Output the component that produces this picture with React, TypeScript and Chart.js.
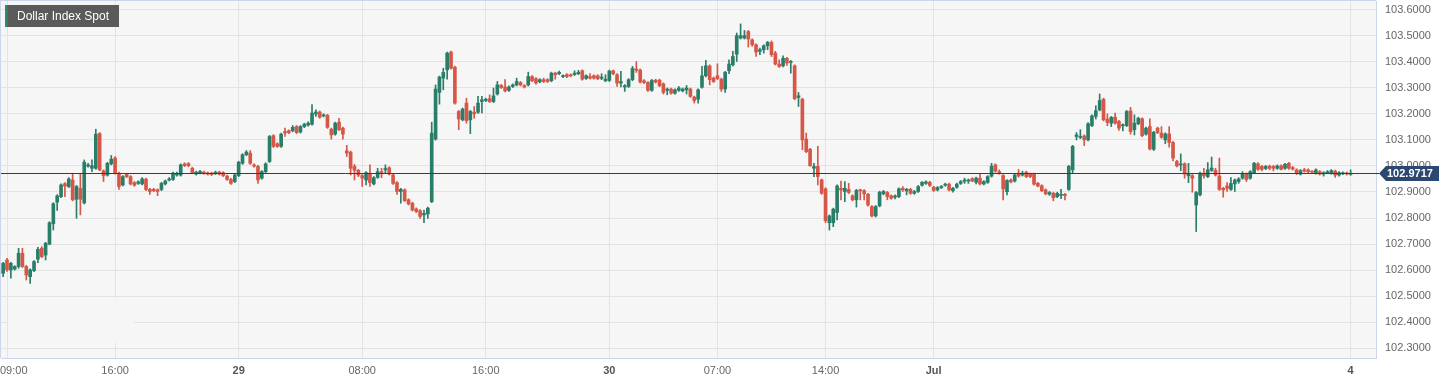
import React, { useEffect, useRef } from "react";
import { Chart, registerables } from "chart.js";

Chart.register(...registerables);

const title = "Dollar Index Spot";
const firstIndex = -1; // 15-minute candles, index 0 = 28 Jun 09:00 (weekend gap removed)
const lastPrice = 102.9717;

const tickIndices = [0, 28, 60, 92, 124, 156, 184, 212, 240, 348];
const tickLabels = ["09:00", "16:00", "29", "08:00", "16:00", "30", "07:00", "14:00", "Jul", "4"];
const tickBold = [false, false, true, false, false, true, false, false, true, true];
const yTicks = [102.3, 102.4, 102.5, 102.6, 102.7, 102.8, 102.9, 103.0, 103.1, 103.2, 103.3, 103.4, 103.5, 103.6];

const opens = [
  102.588, 102.639, 102.601, 102.604, 102.614, 102.665, 102.614, 102.575, 102.598, 102.642,
  102.684, 102.658, 102.700, 102.778, 102.861, 102.882, 102.932, 102.921, 102.946, 102.872,
  102.914, 102.858, 102.999, 102.991, 102.991, 103.124, 102.981, 102.965, 103.008, 103.030,
  102.972, 102.927, 102.968, 102.959, 102.936, 102.933, 102.931, 102.949, 102.910, 102.910,
  102.908, 102.910, 102.931, 102.946, 102.948, 102.965, 102.965, 103.008, 103.009, 102.991,
  102.969, 102.973, 102.976, 102.973, 102.972, 102.971, 102.976, 102.974, 102.961, 102.948,
  102.940, 102.963, 103.010, 103.043, 103.049, 103.004, 102.998, 102.953, 102.978, 103.017,
  103.116, 103.085, 103.075, 103.132, 103.135, 103.135, 103.151, 103.130, 103.151, 103.157,
  103.160, 103.199, 103.207, 103.192, 103.194, 103.141, 103.122, 103.168, 103.145, 103.058,
  103.053, 102.998, 102.983, 102.963, 102.946, 102.972, 102.931, 102.956, 102.978, 102.985,
  102.993, 102.965, 102.936, 102.902, 102.908, 102.870, 102.857, 102.835, 102.828, 102.812,
  102.816, 102.863, 103.103, 103.282, 103.337, 103.369, 103.437, 103.379, 103.209, 103.177,
  103.241, 103.177, 103.206, 103.206, 103.247, 103.251, 103.258, 103.247, 103.276, 103.309,
  103.303, 103.290, 103.305, 103.311, 103.320, 103.308, 103.311, 103.343, 103.335, 103.323,
  103.331, 103.331, 103.327, 103.356, 103.354, 103.343, 103.350, 103.349, 103.351, 103.354,
  103.365, 103.336, 103.343, 103.346, 103.346, 103.336, 103.327, 103.328, 103.365, 103.350,
  103.318, 103.303, 103.305, 103.331, 103.372, 103.368, 103.327, 103.320, 103.290, 103.329,
  103.329, 103.315, 103.290, 103.295, 103.279, 103.290, 103.288, 103.292, 103.295, 103.264,
  103.256, 103.302, 103.346, 103.384, 103.337, 103.346, 103.333, 103.295, 103.365, 103.388,
  103.429, 103.491, 103.491, 103.516, 103.484, 103.465, 103.440, 103.446, 103.461, 103.474,
  103.433, 103.391, 103.384, 103.413, 103.397, 103.384, 103.263, 103.256, 103.103, 103.064,
  102.991, 102.998, 102.946, 102.912, 102.782, 102.782, 102.821, 102.914, 102.902, 102.910,
  102.885, 102.870, 102.908, 102.905, 102.891, 102.844, 102.808, 102.847, 102.893, 102.898,
  102.885, 102.880, 102.882, 102.914, 102.904, 102.910, 102.895, 102.902, 102.926, 102.933,
  102.937, 102.918, 102.908, 102.917, 102.926, 102.930, 102.905, 102.918, 102.933, 102.941,
  102.942, 102.951, 102.937, 102.953, 102.931, 102.937, 102.961, 103.004, 102.978, 102.963,
  102.901, 102.946, 102.942, 102.972, 102.965, 102.976, 102.969, 102.969, 102.933, 102.924,
  102.908, 102.891, 102.895, 102.882, 102.887, 102.891, 102.910, 102.985, 103.113, 103.109,
  103.115, 103.100, 103.155, 103.190, 103.215, 103.256, 103.180, 103.164, 103.187, 103.171,
  103.154, 103.155, 103.211, 103.139, 103.162, 103.181, 103.122, 103.151, 103.064, 103.145,
  103.126, 103.100, 103.123, 103.090, 103.017, 103.004, 103.008, 102.962, 102.963, 102.850,
  102.889, 102.972, 102.959, 102.983, 102.983, 102.961, 102.914, 102.923, 102.910, 102.931,
  102.940, 102.953, 102.969, 102.953, 102.974, 103.008, 102.998, 102.990, 102.999, 102.998,
  102.991, 103.000, 102.991, 103.010, 102.994, 102.985, 102.969, 102.985, 102.985, 102.978,
  102.972, 102.978, 102.969, 102.974, 102.972, 102.980, 102.965, 102.970, 102.973, 102.968,
];

const highs = [
  102.630, 102.645, 102.630, 102.617, 102.684, 102.684, 102.618, 102.605, 102.637, 102.688,
  102.690, 102.707, 102.786, 102.859, 102.890, 102.931, 102.936, 102.955, 102.972, 102.925,
  102.972, 103.023, 103.010, 103.023, 103.141, 103.128, 102.985, 103.014, 103.040, 103.036,
  102.976, 102.963, 102.972, 102.963, 102.940, 102.943, 102.955, 102.953, 102.914, 102.914,
  102.912, 102.937, 102.946, 102.955, 102.976, 102.976, 103.008, 103.012, 103.013, 102.995,
  102.980, 102.983, 102.980, 102.977, 102.976, 102.980, 102.980, 102.978, 102.965, 102.952,
  102.969, 103.018, 103.047, 103.059, 103.059, 103.008, 103.002, 102.982, 103.012, 103.117,
  103.120, 103.089, 103.126, 103.145, 103.139, 103.155, 103.155, 103.155, 103.164, 103.169,
  103.235, 103.215, 103.211, 103.200, 103.198, 103.145, 103.168, 103.183, 103.149, 103.079,
  103.057, 103.006, 102.987, 102.967, 102.978, 103.004, 102.959, 102.991, 102.991, 103.004,
  102.997, 102.969, 102.940, 102.914, 102.912, 102.874, 102.861, 102.839, 102.832, 102.831,
  102.842, 103.168, 103.311, 103.345, 103.375, 103.437, 103.441, 103.383, 103.213, 103.222,
  103.260, 103.213, 103.228, 103.267, 103.267, 103.260, 103.273, 103.299, 103.324, 103.313,
  103.331, 103.307, 103.315, 103.337, 103.324, 103.312, 103.360, 103.347, 103.339, 103.335,
  103.337, 103.335, 103.360, 103.360, 103.364, 103.350, 103.354, 103.353, 103.365, 103.367,
  103.369, 103.350, 103.354, 103.350, 103.350, 103.354, 103.350, 103.368, 103.368, 103.354,
  103.363, 103.312, 103.335, 103.382, 103.400, 103.372, 103.331, 103.324, 103.332, 103.333,
  103.333, 103.319, 103.299, 103.299, 103.296, 103.305, 103.299, 103.309, 103.299, 103.268,
  103.296, 103.382, 103.405, 103.388, 103.341, 103.392, 103.337, 103.363, 103.407, 103.440,
  103.510, 103.545, 103.520, 103.520, 103.488, 103.469, 103.452, 103.465, 103.478, 103.480,
  103.440, 103.407, 103.423, 103.417, 103.405, 103.388, 103.282, 103.260, 103.126, 103.068,
  103.010, 103.075, 102.950, 102.916, 102.812, 102.838, 102.927, 102.942, 102.940, 102.933,
  102.889, 102.910, 102.911, 102.909, 102.895, 102.848, 102.848, 102.903, 102.906, 102.902,
  102.889, 102.889, 102.916, 102.921, 102.914, 102.914, 102.906, 102.925, 102.940, 102.943,
  102.941, 102.922, 102.921, 102.925, 102.934, 102.934, 102.918, 102.934, 102.944, 102.953,
  102.950, 102.955, 102.957, 102.972, 102.944, 102.963, 103.010, 103.008, 102.985, 102.967,
  102.948, 102.950, 102.969, 102.986, 102.980, 102.980, 102.973, 102.973, 102.937, 102.928,
  102.912, 102.902, 102.899, 102.899, 102.910, 102.895, 103.002, 103.079, 103.128, 103.139,
  103.119, 103.166, 103.196, 103.231, 103.276, 103.260, 103.200, 103.190, 103.203, 103.175,
  103.162, 103.213, 103.225, 103.196, 103.187, 103.185, 103.149, 103.181, 103.133, 103.149,
  103.151, 103.127, 103.151, 103.094, 103.021, 103.046, 103.012, 103.010, 102.967, 102.902,
  102.976, 102.991, 103.013, 103.034, 102.991, 103.030, 102.918, 102.936, 102.955, 102.950,
  102.955, 102.978, 102.973, 102.982, 103.014, 103.013, 103.002, 103.002, 103.003, 103.002,
  103.004, 103.004, 103.010, 103.014, 102.998, 102.989, 102.986, 102.991, 102.989, 102.982,
  102.989, 102.982, 102.978, 102.982, 102.986, 102.984, 102.978, 102.977, 102.977, 102.985,
];

const lows = [
  102.575, 102.595, 102.569, 102.600, 102.607, 102.610, 102.562, 102.549, 102.594, 102.629,
  102.648, 102.639, 102.697, 102.754, 102.829, 102.878, 102.882, 102.917, 102.866, 102.799,
  102.812, 102.854, 102.995, 102.978, 102.987, 102.981, 102.940, 102.961, 103.004, 102.968,
  102.910, 102.923, 102.955, 102.927, 102.922, 102.929, 102.927, 102.905, 102.891, 102.901,
  102.886, 102.905, 102.927, 102.942, 102.944, 102.961, 102.961, 102.997, 102.997, 102.970,
  102.965, 102.969, 102.968, 102.965, 102.963, 102.967, 102.965, 102.959, 102.944, 102.929,
  102.936, 102.959, 103.006, 103.039, 103.006, 102.995, 102.933, 102.949, 102.974, 103.013,
  103.071, 103.071, 103.071, 103.113, 103.124, 103.131, 103.124, 103.126, 103.147, 103.153,
  103.156, 103.190, 103.183, 103.188, 103.144, 103.103, 103.118, 103.135, 103.103, 103.036,
  102.965, 102.946, 102.959, 102.921, 102.927, 102.921, 102.927, 102.952, 102.955, 102.972,
  102.965, 102.929, 102.891, 102.857, 102.863, 102.850, 102.827, 102.821, 102.799, 102.782,
  102.799, 102.859, 103.099, 103.237, 103.292, 103.333, 103.371, 103.237, 103.139, 103.173,
  103.164, 103.124, 103.183, 103.202, 103.203, 103.247, 103.243, 103.243, 103.272, 103.297,
  103.284, 103.286, 103.301, 103.307, 103.307, 103.299, 103.307, 103.323, 103.314, 103.319,
  103.320, 103.320, 103.323, 103.333, 103.350, 103.339, 103.339, 103.342, 103.347, 103.350,
  103.329, 103.332, 103.333, 103.333, 103.331, 103.331, 103.323, 103.324, 103.350, 103.305,
  103.303, 103.286, 103.301, 103.327, 103.359, 103.318, 103.316, 103.286, 103.286, 103.318,
  103.304, 103.276, 103.273, 103.275, 103.275, 103.286, 103.284, 103.276, 103.263, 103.241,
  103.241, 103.298, 103.342, 103.311, 103.320, 103.331, 103.286, 103.282, 103.354, 103.384,
  103.401, 103.487, 103.487, 103.456, 103.459, 103.420, 103.427, 103.433, 103.446, 103.420,
  103.387, 103.378, 103.380, 103.386, 103.356, 103.254, 103.228, 103.062, 103.051, 102.998,
  102.959, 102.927, 102.891, 102.782, 102.754, 102.767, 102.793, 102.870, 102.863, 102.894,
  102.866, 102.842, 102.870, 102.870, 102.846, 102.804, 102.804, 102.843, 102.889, 102.870,
  102.872, 102.873, 102.878, 102.902, 102.889, 102.891, 102.891, 102.898, 102.922, 102.929,
  102.921, 102.902, 102.904, 102.913, 102.922, 102.904, 102.899, 102.914, 102.929, 102.933,
  102.933, 102.940, 102.931, 102.927, 102.927, 102.933, 102.957, 102.976, 102.968, 102.870,
  102.889, 102.935, 102.938, 102.957, 102.961, 102.955, 102.955, 102.926, 102.919, 102.901,
  102.889, 102.887, 102.866, 102.878, 102.874, 102.870, 102.906, 102.972, 103.100, 103.105,
  103.078, 103.096, 103.151, 103.180, 103.211, 103.173, 103.154, 103.151, 103.160, 103.136,
  103.134, 103.151, 103.122, 103.119, 103.158, 103.112, 103.118, 103.061, 103.059, 103.124,
  103.106, 103.085, 103.072, 103.019, 102.996, 102.982, 102.953, 102.936, 102.899, 102.748,
  102.885, 102.953, 102.955, 102.979, 102.961, 102.906, 102.880, 102.902, 102.906, 102.902,
  102.933, 102.949, 102.940, 102.949, 102.970, 102.983, 102.981, 102.986, 102.985, 102.981,
  102.987, 102.985, 102.987, 102.987, 102.984, 102.967, 102.965, 102.976, 102.974, 102.972,
  102.968, 102.965, 102.961, 102.970, 102.968, 102.956, 102.961, 102.966, 102.965, 102.964,
];

const closes = [
  102.626, 102.601, 102.626, 102.614, 102.665, 102.614, 102.581, 102.601, 102.633, 102.680,
  102.652, 102.703, 102.782, 102.855, 102.885, 102.927, 102.923, 102.950, 102.870, 102.921,
  102.872, 103.014, 103.004, 103.001, 103.122, 102.985, 102.962, 103.010, 103.026, 102.972,
  102.921, 102.959, 102.959, 102.931, 102.926, 102.939, 102.950, 102.910, 102.902, 102.905,
  102.902, 102.933, 102.942, 102.950, 102.972, 102.972, 103.004, 103.001, 103.001, 102.974,
  102.976, 102.979, 102.972, 102.969, 102.967, 102.976, 102.969, 102.963, 102.948, 102.933,
  102.965, 103.014, 103.043, 103.053, 103.010, 102.999, 102.946, 102.978, 103.008, 103.113,
  103.075, 103.075, 103.122, 103.126, 103.128, 103.148, 103.128, 103.151, 103.160, 103.164,
  103.203, 103.207, 103.187, 103.196, 103.148, 103.119, 103.164, 103.139, 103.122, 103.049,
  102.991, 102.983, 102.965, 102.953, 102.974, 102.936, 102.955, 102.978, 102.972, 102.990,
  102.969, 102.933, 102.902, 102.910, 102.867, 102.854, 102.831, 102.825, 102.806, 102.818,
  102.838, 103.126, 103.295, 103.341, 103.359, 103.433, 103.375, 103.241, 103.180, 103.218,
  103.174, 103.209, 103.200, 103.241, 103.254, 103.256, 103.247, 103.269, 103.311, 103.301,
  103.288, 103.303, 103.311, 103.324, 103.311, 103.303, 103.343, 103.327, 103.318, 103.331,
  103.324, 103.324, 103.356, 103.350, 103.359, 103.346, 103.343, 103.346, 103.356, 103.359,
  103.333, 103.346, 103.337, 103.337, 103.335, 103.341, 103.333, 103.364, 103.354, 103.318,
  103.324, 103.308, 103.331, 103.374, 103.367, 103.322, 103.320, 103.290, 103.328, 103.322,
  103.308, 103.282, 103.295, 103.279, 103.292, 103.299, 103.295, 103.299, 103.267, 103.251,
  103.292, 103.346, 103.384, 103.331, 103.324, 103.335, 103.295, 103.359, 103.391, 103.420,
  103.500, 103.500, 103.500, 103.487, 103.465, 103.437, 103.446, 103.461, 103.474, 103.427,
  103.391, 103.382, 103.413, 103.395, 103.401, 103.258, 103.269, 103.100, 103.055, 103.001,
  102.998, 102.959, 102.895, 102.790, 102.808, 102.834, 102.923, 102.908, 102.914, 102.898,
  102.870, 102.906, 102.904, 102.893, 102.850, 102.808, 102.844, 102.899, 102.902, 102.882,
  102.876, 102.885, 102.912, 102.908, 102.910, 102.895, 102.902, 102.921, 102.937, 102.939,
  102.925, 102.906, 102.917, 102.921, 102.930, 102.908, 102.914, 102.930, 102.940, 102.946,
  102.946, 102.942, 102.953, 102.931, 102.940, 102.959, 102.999, 102.980, 102.972, 102.912,
  102.944, 102.939, 102.965, 102.961, 102.972, 102.959, 102.959, 102.930, 102.923, 102.905,
  102.893, 102.898, 102.878, 102.895, 102.891, 102.886, 102.998, 103.075, 103.119, 103.113,
  103.100, 103.162, 103.192, 103.212, 103.251, 103.177, 103.167, 103.186, 103.164, 103.145,
  103.158, 103.209, 103.132, 103.164, 103.183, 103.116, 103.145, 103.065, 103.129, 103.128,
  103.110, 103.123, 103.090, 103.030, 103.000, 103.008, 102.969, 102.972, 102.953, 102.898,
  102.972, 102.962, 102.985, 102.992, 102.965, 102.910, 102.908, 102.914, 102.933, 102.946,
  102.950, 102.969, 102.948, 102.978, 103.010, 102.987, 102.987, 102.998, 102.991, 102.991,
  103.000, 102.987, 103.006, 102.991, 102.988, 102.972, 102.982, 102.980, 102.978, 102.976,
  102.985, 102.969, 102.974, 102.978, 102.982, 102.965, 102.974, 102.973, 102.969, 102.9717,
];

const UP = "#2a7e69";
const DOWN = "#d65747";
const FONT = "Arial, 'Liberation Sans', sans-serif";

const decorPlugin = {
  id: "decor",
  beforeDraw(chart: any) {
    const { ctx, chartArea: a } = chart;
    ctx.save();
    ctx.fillStyle = "#ffffff";
    ctx.fillRect(0, 0, chart.width, chart.height);
    ctx.fillStyle = "#f6f6f6";
    ctx.fillRect(a.left, a.top, a.right - a.left, a.bottom - a.top);
    ctx.restore();
  },
  beforeDatasetsDraw(chart: any) {
    const { ctx, chartArea: a } = chart;
    ctx.save();
    // masked area bottom-left
    ctx.fillStyle = "#f6f6f6";
    ctx.fillRect(8, 298, 126, 45);
    // top and left border
    ctx.strokeStyle = "#ccd6eb";
    ctx.lineWidth = 1;
    ctx.beginPath();
    ctx.moveTo(0, 0.5);
    ctx.lineTo(a.right, 0.5);
    ctx.moveTo(0.5, 0);
    ctx.lineTo(0.5, a.bottom);
    ctx.stroke();
    ctx.restore();
  },
  afterDatasetsDraw(chart: any) {
    const { ctx, chartArea: a, scales } = chart;
    ctx.save();
    // current price line
    const py = Math.round(scales.y.getPixelForValue(lastPrice)) + 0.5;
    ctx.strokeStyle = "#2b3d63";
    ctx.lineWidth = 1;
    ctx.beginPath();
    ctx.moveTo(a.left, py);
    ctx.lineTo(a.right + 3, py);
    ctx.stroke();
    // price tag
    ctx.fillStyle = "#2c4770";
    ctx.beginPath();
    ctx.moveTo(1379, py);
    ctx.lineTo(1386, py - 7.5);
    ctx.lineTo(1439, py - 7.5);
    ctx.lineTo(1439, py + 7.5);
    ctx.lineTo(1386, py + 7.5);
    ctx.closePath();
    ctx.fill();
    ctx.fillStyle = "#ffffff";
    ctx.font = "bold 11px " + FONT;
    ctx.textAlign = "left";
    ctx.textBaseline = "middle";
    ctx.fillText(lastPrice.toFixed(4), 1387, py + 0.5);
    // title box
    ctx.fillStyle = "#5a5a5a";
    ctx.fillRect(5, 5, 114, 22);
    ctx.fillStyle = "#2e8a6f";
    ctx.fillRect(5, 5, 2.5, 22);
    ctx.fillStyle = "#ffffff";
    ctx.font = "12px " + FONT;
    ctx.fillText(title, 17, 16.5);
    // x labels
    tickIndices.forEach((v, k) => {
      const x = scales.x.getPixelForValue(v);
      ctx.font = (tickBold[k] ? "bold " : "") + "11px " + FONT;
      ctx.fillStyle = tickBold[k] ? "#555555" : "#666666";
      const w = ctx.measureText(tickLabels[k]).width;
      const cx = Math.max(x, w / 2);
      ctx.textAlign = "center";
      ctx.fillText(tickLabels[k], cx, 371);
    });
    ctx.restore();
  },
};

export default function App() {
  const ref = useRef<HTMLCanvasElement | null>(null);
  useEffect(() => {
    if (!ref.current) return;
    const idx = opens.map((_, k) => firstIndex + k);
    const colors = opens.map((o, k) => (closes[k] >= o ? UP : DOWN));
    const bodies = opens.map((o, k) => ({ x: idx[k], y: [o, closes[k]] }));
    const wicks = opens.map((_, k) => ({ x: idx[k], y: [lows[k], highs[k]] }));
    const chart = new Chart(ref.current, {
      type: "bar",
      data: {
        datasets: [
          {
            label: "body",
            data: bodies as any,
            backgroundColor: colors,
            barThickness: 3,
            minBarLength: 1,
            grouped: false,
            order: 0,
          } as any,
          {
            label: "wick",
            data: wicks as any,
            backgroundColor: colors,
            barThickness: 1,
            minBarLength: 1,
            grouped: false,
            order: 1,
          } as any,
        ],
      },
      options: {
        animation: false,
        responsive: false,
        devicePixelRatio: 1,
        layout: { padding: { left: 1, top: 1, right: 0, bottom: 0 } },
        plugins: { legend: { display: false }, tooltip: { enabled: false } },
        scales: {
          x: {
            type: "linear",
            min: -1.554,
            max: 354.57,
            offset: false,
            afterBuildTicks: (s: any) => {
              s.ticks = tickIndices.map((v) => ({ value: v }));
            },
            afterFit: (s: any) => {
              s.height = 26;
              s.paddingLeft = 0;
              s.paddingRight = 0;
            },
            ticks: { display: false },
            grid: { color: "#e3e3e3", drawTicks: false, offset: false },
            border: { color: "#ccd6eb" },
          },
          y: {
            type: "linear",
            position: "right",
            min: 102.2628,
            max: 103.633,
            afterBuildTicks: (s: any) => {
              s.ticks = yTicks.map((v) => ({ value: v }));
            },
            afterFit: (s: any) => {
              s.width = 77;
              s.paddingTop = 0;
              s.paddingBottom = 0;
            },
            ticks: {
              padding: 9,
              color: "#666666",
              font: { size: 11, family: FONT },
              callback: (v: any) => Number(v).toFixed(4),
            },
            grid: { color: "#e3e3e3", drawTicks: false },
            border: { color: "#ccd6eb" },
          },
        },
      } as any,
      plugins: [decorPlugin],
    });
    return () => chart.destroy();
  }, []);
  return (
    <div style={{ position: "absolute", left: 0, top: 0, width: 1453, height: 384 }}>
      <canvas ref={ref} width={1453} height={384} style={{ width: 1453, height: 384 }} />
    </div>
  );
}
